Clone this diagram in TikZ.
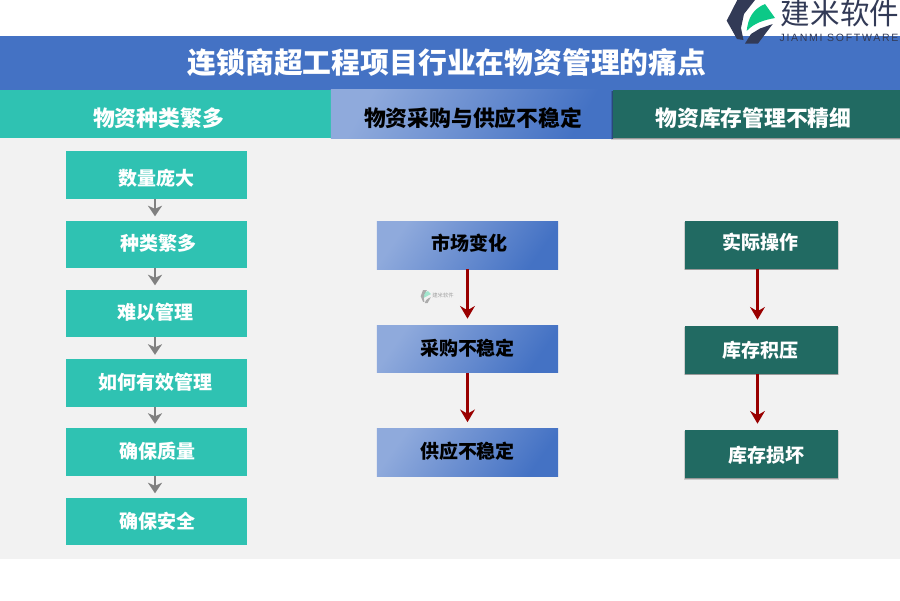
\documentclass[tikz,border=0pt]{standalone}
\usepackage{fontspec}
\setmainfont{Noto Sans CJK SC}
\newfontfamily\latinfont{Liberation Sans}[LetterSpace=16]
\usepackage[HTML]{xcolor}
\usepackage{tikz}
\usetikzlibrary{arrows.meta, shadows}

\definecolor{bandblue}{HTML}{4472C4}
\definecolor{lightblue}{HTML}{8FAADC}
\definecolor{tealfill}{HTML}{2FC2B2}
\definecolor{darkgreen}{HTML}{216A62}
\definecolor{panelgray}{HTML}{F2F2F2}
\definecolor{logonavy}{HTML}{323A56}
\definecolor{logogreen}{HTML}{0CC987}
\definecolor{arrowred}{HTML}{990000}

\tikzset{
  headtext/.style={font=\fontsize{15.5}{18}\selectfont\bfseries, inner sep=0pt, minimum height=1.2cm, text height=19.6pt, text depth=1.9pt},
  boxtext/.style={font=\fontsize{13.5}{16}\selectfont\bfseries, inner sep=0pt, minimum height=1.185cm, text depth=1.6pt},
  softshadow/.style={
    drop shadow={shadow xshift=0pt, shadow yshift=-1pt, shadow scale=1.015, opacity=0.15, fill=black},
    drop shadow={shadow xshift=0pt, shadow yshift=-0.8pt, shadow scale=1.004, opacity=0.25, fill=black}},
  tealbox/.style={boxtext, fill=tealfill, text=white, minimum width=4.525cm},
  bluebox/.style={boxtext, left color=lightblue, right color=bandblue, shading angle=55, text=black, minimum width=4.525cm},
  greenbox/.style={boxtext, fill=darkgreen, text=white, minimum width=3.825cm, softshadow},
  grayarrow/.style={draw=black!50, line width=2pt, shorten >=3pt, -{Stealth[inset=2.2pt, length=7.5pt, width=10pt]}},
  redarrow/.style={draw=arrowred, line width=2pt, shorten >=4.5pt, -{Stealth[inset=3pt, length=9pt, width=10.5pt]}},
}

\newcommand{\logomark}{%
  \fill (726.7,20.7)--(737.3,0)--(755,0)--(744,14)--(741,28)--(743.5,40)--(737,39)--cycle;
  \fill (745,43.5)--(751,34)--(760,28.5)--(772.7,24)--(758,43.5)--cycle;
}

\begin{document}
\begin{tikzpicture}[x=0.025cm, y=-0.025cm]
\useasboundingbox (0,0) rectangle (900,600);

% --- Panels ---
\fill[panelgray] (0,138) rectangle (900,559);
\node[fill=bandblue, text=white, font=\fontsize{20.5}{24}\selectfont\bfseries, inner sep=0pt,
  minimum width=22.5cm, minimum height=1.35cm] (title) at (450,63) {\hspace*{-0.15cm}连锁商超工程项目行业在物资管理的痛点};

% --- Logo ---
\begin{scope}[fill=logonavy]
\logomark
\end{scope}
\fill[logogreen] (746.7,31) .. controls (748,18) and (753,9) .. (765,4) -- (775,18)
  .. controls (764,20) and (754,23) .. cycle;
\node[text=logonavy, font=\fontsize{21}{24}\selectfont, inner sep=0pt] (logoname) at (840,13) {建米软件};
\node[text=logonavy, font=\fontsize{7.5}{8}\latinfont, inner sep=0pt] (logolatin) at (839,38) {JIANMI SOFTWARE};

% --- Watermark ---
\begin{scope}[opacity=0.55, shift={(421,290)}, x=0.0055cm, y=-0.0075cm, xshift=-3.9985cm, fill=black!55]
\logomark
\end{scope}
\fill[logogreen!60, opacity=0.6] (423.5,298) -- (425,292.5) -- (428,291) -- (431,294) -- cycle;
\node[text=black!50, opacity=0.7, font=\fontsize{3.8}{4}\selectfont, inner sep=0pt] (markname) at (443,295.5) {建米软件};

% --- Column heads ---
\node[headtext, fill=tealfill, text=white, minimum width=8.275cm] (headone) at (165.5,114) {\hspace*{-0.35cm}物资种类繁多};
\node[headtext, left color=lightblue, right color=bandblue, shading angle=60, text=black, minimum width=7.05cm] (headtwo) at (472,114) {\hspace*{0.05cm}物资采购与供应不稳定};
\node[headtext, fill=darkgreen, text=white, minimum width=7.175cm, softshadow] (headthree) at (756.5,114) {\hspace*{-0.15cm}物资库存管理不精细};

% --- Left column ---
\node[tealbox, text height=16.4pt] (count) at (156.5,175) {数量庞大};
\node[tealbox, text height=9.7pt] (kinds) at (156.5,244.5) {\hspace*{0.1cm}种类繁多};
\node[tealbox, text height=9.7pt] (hard) at (156.5,313.5) {\hspace*{-0.05cm}难以管理};
\node[tealbox, text height=10.4pt] (effective) at (156.5,383) {\hspace*{-0.05cm}如何有效管理};
\node[tealbox, text height=10.4pt] (quality) at (156.5,452) {\hspace*{0.05cm}确保质量};
\node[tealbox, text height=11.9pt] (safety) at (156.5,521.5) {\hspace*{0.05cm}确保安全};
\draw[grayarrow] ([xshift=-1.5*0.025cm]count.south)--([xshift=-1.5*0.025cm]kinds.north);
\draw[grayarrow] ([xshift=-1.5*0.025cm]kinds.south)--([xshift=-1.5*0.025cm]hard.north);
\draw[grayarrow] ([xshift=-1.5*0.025cm]hard.south)--([xshift=-1.5*0.025cm]effective.north);
\draw[grayarrow] ([xshift=-1.5*0.025cm]effective.south)--([xshift=-1.5*0.025cm]quality.north);
\draw[grayarrow] ([xshift=-1.5*0.025cm]quality.south)--([xshift=-1.5*0.025cm]safety.north);

% --- Middle column ---
\node[bluebox, text height=8.9pt] (market) at (467.5,245.5) {\hspace*{0.1cm}市场变化};
\node[bluebox, text height=10.4pt] (purchase) at (467.5,349) {采购不稳定};
\node[bluebox, text height=10.4pt] (supply) at (467.5,452.5) {供应不稳定};
\draw[redarrow] (market)--(purchase);
\draw[redarrow] (purchase)--(supply);

% --- Right column ---
\node[greenbox, text height=7.4pt] (operation) at (761.5,245) {\hspace*{-0.05cm}实际操作};
\node[greenbox, text height=11.9pt] (backlog) at (761.5,350) {\hspace*{-0.05cm}库存积压};
\node[greenbox, text height=13.4pt] (damage) at (761.5,454) {\hspace*{0.25cm}库存损坏};
\draw[redarrow] ([xshift=-0.1cm]operation.south)--([xshift=-0.1cm]backlog.north);
\draw[redarrow] ([xshift=-0.1cm]backlog.south)--([xshift=-0.1cm]damage.north);

\end{tikzpicture}
\end{document}
